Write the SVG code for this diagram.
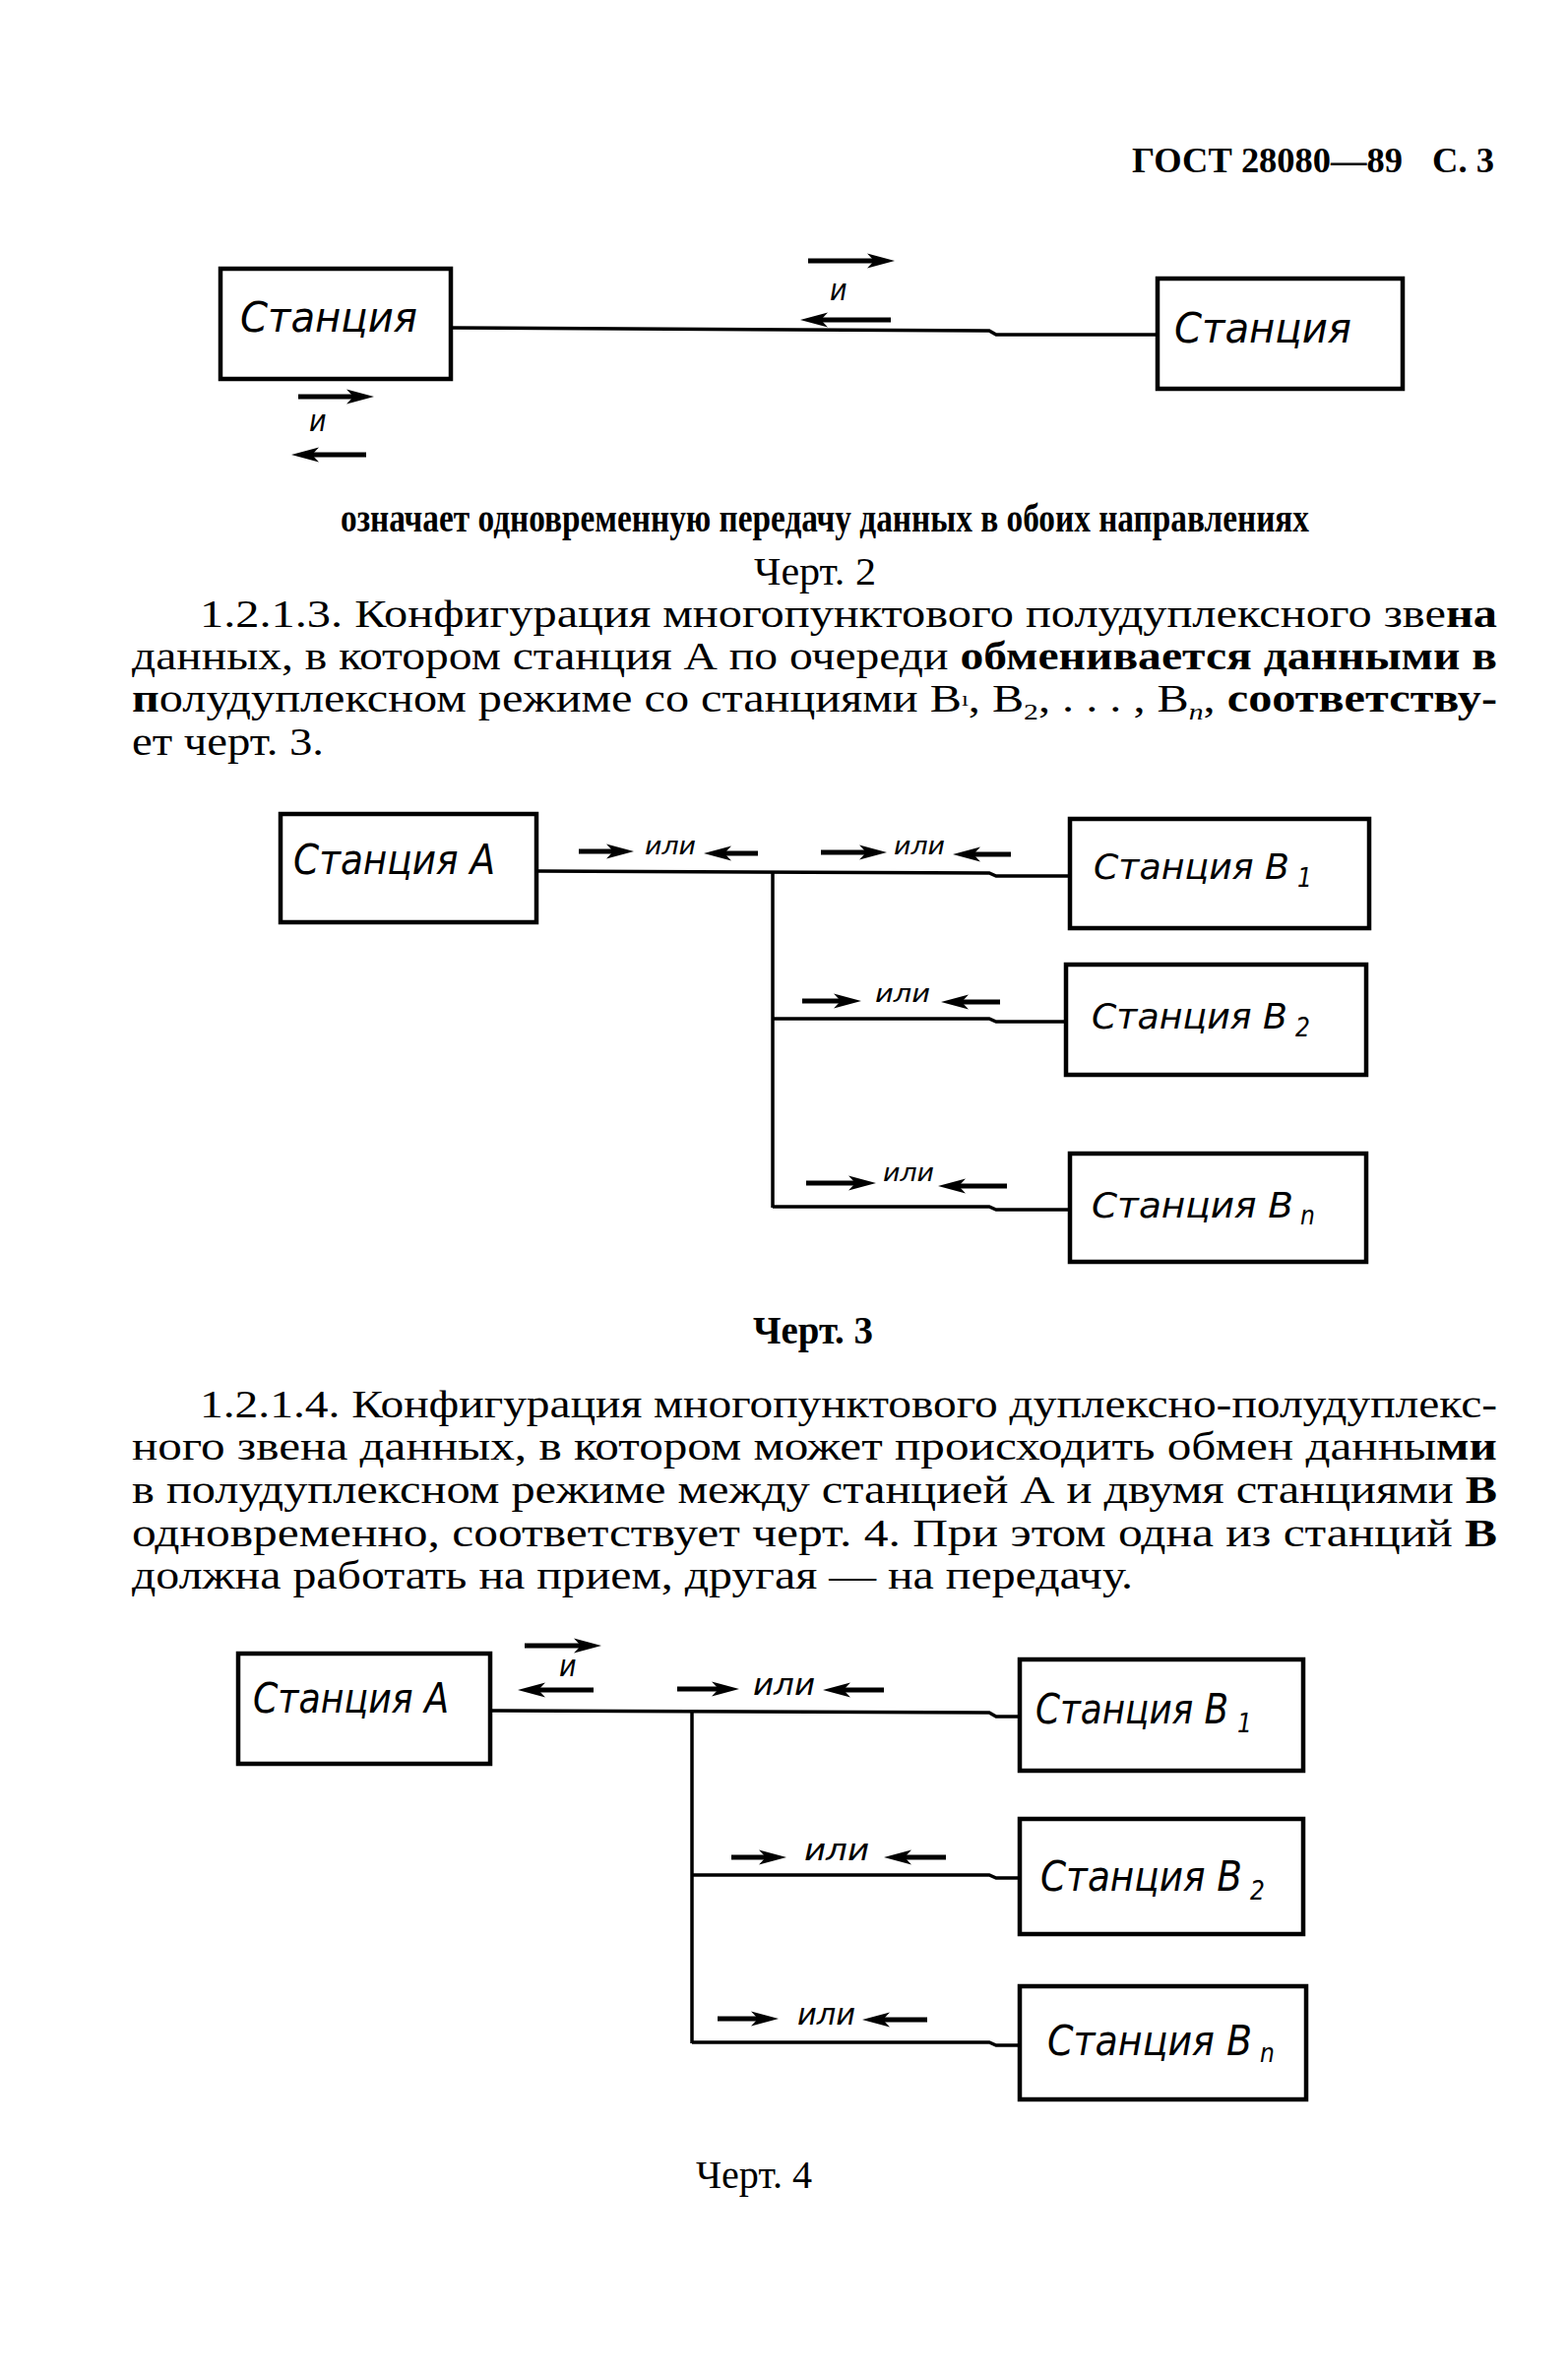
<svg xmlns="http://www.w3.org/2000/svg" width="1593" height="2414" viewBox="0 0 1593 2414">
<style>
.bg{fill:#fff}
.box{fill:none;stroke:#000;stroke-width:4.5}
.wire{fill:none;stroke:#000;stroke-width:3.5}
.arr{stroke:#000;stroke-width:5;marker-end:url(#ah)}
.st{font-family:'DejaVu Sans Condensed','DejaVu Sans',sans-serif;font-style:oblique;font-size:42px;fill:#000}
.st3{font-size:35px}
.sub{font-size:26px}
.lbl{font-family:'DejaVu Sans Condensed','DejaVu Sans',sans-serif;font-style:oblique;fill:#000}
.body{font-family:'Liberation Serif','Times New Roman',serif;font-size:39px;fill:#000}
.hd{font-family:'Liberation Serif','Times New Roman',serif;font-weight:bold;font-size:35px;fill:#000}
.b{font-weight:bold}
</style>
<defs>
<marker id="ah" markerUnits="userSpaceOnUse" markerWidth="30" markerHeight="18" refX="17" refY="9" orient="auto">
<path d="M0,1.5 L28,9 L0,16.5 L7,9 Z" fill="#000"/>
</marker>
</defs>
<rect class="bg" x="0" y="0" width="1593" height="2414"/>

<!-- Header -->
<g id="header">
<text class="hd" x="1150" y="175" textLength="275" lengthAdjust="spacingAndGlyphs">ГОСТ 28080—89</text>
<text class="hd" x="1455" y="175" textLength="63" lengthAdjust="spacingAndGlyphs">С. 3</text>
</g>

<!-- ===== Figure 2 ===== -->
<g id="fig2-connectors">
<polyline class="wire" points="458,333 1005,336 1012,340 1176,340"/>
<line class="arr" x1="821" y1="265" x2="898" y2="265"/>
<line class="arr" x1="905" y1="325" x2="824" y2="325"/>
<line class="arr" x1="303" y1="403" x2="369" y2="403"/>
<line class="arr" x1="372" y1="462" x2="307" y2="462"/>
<text class="lbl" x="843" y="305" font-size="30">и</text>
<text class="lbl" x="314" y="438" font-size="30">и</text>
</g>
<g id="fig2-station-left">
<rect class="box" x="224" y="273" width="234" height="112"/>
<text class="st" x="244" y="337" textLength="180" lengthAdjust="spacingAndGlyphs">Станция</text>
</g>
<g id="fig2-station-right">
<rect class="box" x="1176" y="283" width="249" height="112"/>
<text class="st" x="1193" y="348" textLength="180" lengthAdjust="spacingAndGlyphs">Станция</text>
</g>
<g id="fig2-caption">
<text class="body b" x="346" y="540" font-size="25" textLength="984" lengthAdjust="spacingAndGlyphs">означает одновременную передачу данных в обоих направлениях</text>
<text class="body" x="766" y="594" textLength="124" lengthAdjust="spacingAndGlyphs">Черт. 2</text>
</g>

<!-- Paragraph 1.2.1.3 -->
<g id="para-1213">
<text class="body" x="203" y="637" textLength="1318" lengthAdjust="spacingAndGlyphs">1.2.1.3. Конфигурация многопунктового полудуплексного зве<tspan class="b">на</tspan></text>
<text class="body" x="134" y="680" textLength="1387" lengthAdjust="spacingAndGlyphs">данных, в котором станция А по очереди <tspan class="b">обменивается данными в</tspan></text>
<text class="body" x="134" y="723" textLength="1387" lengthAdjust="spacingAndGlyphs"><tspan class="b">п</tspan>олудуплексном режиме со станциями В<tspan font-size="20" dy="-6">ı</tspan><tspan dy="6">, В</tspan><tspan font-size="24" dy="8">2</tspan><tspan dy="-8">, . . . , В</tspan><tspan font-size="24" font-style="italic" dy="8">n</tspan><tspan dy="-8">, </tspan><tspan class="b">соответству-</tspan></text>
<text class="body" x="134" y="767" textLength="195" lengthAdjust="spacingAndGlyphs">ет черт. 3.</text>
</g>

<!-- ===== Figure 3 ===== -->
<g id="fig3-connectors">
<polyline class="wire" points="545,885 1005,887 1012,890 1087,890"/>
<line class="wire" x1="785" y1="886" x2="785" y2="1227"/>
<polyline class="wire" points="785,1035 1005,1035 1012,1038 1083,1038"/>
<polyline class="wire" points="785,1226 1005,1226 1012,1229 1087,1229"/>
<line class="arr" x1="588" y1="865" x2="633" y2="865"/>
<text class="lbl" x="655" y="868" font-size="25" textLength="52" lengthAdjust="spacingAndGlyphs">или</text>
<line class="arr" x1="770" y1="867" x2="726" y2="867"/>
<line class="arr" x1="834" y1="866" x2="890" y2="866"/>
<text class="lbl" x="908" y="868" font-size="25" textLength="52" lengthAdjust="spacingAndGlyphs">или</text>
<line class="arr" x1="1027" y1="868" x2="979" y2="868"/>
<line class="arr" x1="815" y1="1017" x2="864" y2="1017"/>
<text class="lbl" x="889" y="1018" font-size="25" textLength="56" lengthAdjust="spacingAndGlyphs">или</text>
<line class="arr" x1="1016" y1="1018" x2="967" y2="1018"/>
<line class="arr" x1="819" y1="1202" x2="879" y2="1202"/>
<text class="lbl" x="897" y="1200" font-size="25" textLength="52" lengthAdjust="spacingAndGlyphs">или</text>
<line class="arr" x1="1023" y1="1205" x2="964" y2="1205"/>
</g>
<g id="fig3-station-A">
<rect class="box" x="285" y="827" width="260" height="110"/>
<text class="st" x="298" y="888" textLength="205" lengthAdjust="spacingAndGlyphs">Станция А</text>
</g>
<g id="fig3-station-B1">
<rect class="box" x="1087" y="832" width="304" height="111"/>
<text class="st st3" x="1111" y="893" textLength="199" lengthAdjust="spacingAndGlyphs">Станция В</text>
<text class="st sub" x="1318" y="901">1</text>
</g>
<g id="fig3-station-B2">
<rect class="box" x="1083" y="980" width="305" height="112"/>
<text class="st st3" x="1109" y="1045" textLength="199" lengthAdjust="spacingAndGlyphs">Станция В</text>
<text class="st sub" x="1316" y="1053">2</text>
</g>
<g id="fig3-station-Bn">
<rect class="box" x="1087" y="1172" width="301" height="110"/>
<text class="st st3" x="1109" y="1237" textLength="205" lengthAdjust="spacingAndGlyphs">Станция В</text>
<text class="st sub" x="1321" y="1244">n</text>
</g>
<g id="fig3-caption">
<text class="body b" x="765" y="1365" textLength="122" lengthAdjust="spacingAndGlyphs">Черт. 3</text>
</g>

<!-- Paragraph 1.2.1.4 -->
<g id="para-1214">
<text class="body" x="203" y="1440" textLength="1318" lengthAdjust="spacingAndGlyphs">1.2.1.4. Конфигурация многопунктового дуплексно-полудуплекс-</text>
<text class="body" x="134" y="1483" textLength="1387" lengthAdjust="spacingAndGlyphs">ного звена данных, в котором может происходить обмен  данны<tspan class="b">ми</tspan></text>
<text class="body" x="134" y="1527" textLength="1387" lengthAdjust="spacingAndGlyphs">в полудуплексном режиме между станцией А и двумя станциями <tspan class="b">В</tspan></text>
<text class="body" x="134" y="1571" textLength="1387" lengthAdjust="spacingAndGlyphs">одновременно, соответствует черт. 4. При этом одна из  станций <tspan class="b">В</tspan></text>
<text class="body" x="134" y="1614" textLength="1017" lengthAdjust="spacingAndGlyphs">должна работать на прием, другая — на передачу.</text>
</g>

<!-- ===== Figure 4 ===== -->
<g id="fig4-connectors">
<polyline class="wire" points="498,1738 1005,1740 1012,1744 1038,1744"/>
<line class="wire" x1="703" y1="1740" x2="703" y2="2076"/>
<polyline class="wire" points="703,1905 1005,1905 1012,1908 1038,1908"/>
<polyline class="wire" points="703,2075 1005,2075 1012,2078 1038,2078"/>
<line class="arr" x1="533" y1="1672" x2="600" y2="1672"/>
<text class="lbl" x="568" y="1703" font-size="30">и</text>
<line class="arr" x1="603" y1="1717" x2="537" y2="1717"/>
<line class="arr" x1="688" y1="1716" x2="740" y2="1716"/>
<text class="lbl" x="765" y="1722" font-size="30" textLength="63" lengthAdjust="spacingAndGlyphs">или</text>
<line class="arr" x1="898" y1="1717" x2="847" y2="1717"/>
<line class="arr" x1="743" y1="1887" x2="788" y2="1887"/>
<text class="lbl" x="817" y="1890" font-size="30" textLength="66" lengthAdjust="spacingAndGlyphs">или</text>
<line class="arr" x1="961" y1="1887" x2="909" y2="1887"/>
<line class="arr" x1="729" y1="2051" x2="780" y2="2051"/>
<text class="lbl" x="810" y="2057" font-size="30" textLength="59" lengthAdjust="spacingAndGlyphs">или</text>
<line class="arr" x1="942" y1="2052" x2="887" y2="2052"/>
</g>
<g id="fig4-station-A">
<rect class="box" x="242" y="1680" width="256" height="112"/>
<text class="st" x="257" y="1740" textLength="199" lengthAdjust="spacingAndGlyphs">Станция А</text>
</g>
<g id="fig4-station-B1">
<rect class="box" x="1036" y="1686" width="288" height="113"/>
<text class="st" x="1052" y="1751" textLength="196" lengthAdjust="spacingAndGlyphs">Станция В</text>
<text class="st sub" x="1257" y="1760">1</text>
</g>
<g id="fig4-station-B2">
<rect class="box" x="1036" y="1848" width="288" height="117"/>
<text class="st" x="1057" y="1921" textLength="205" lengthAdjust="spacingAndGlyphs">Станция В</text>
<text class="st sub" x="1270" y="1930">2</text>
</g>
<g id="fig4-station-Bn">
<rect class="box" x="1036" y="2018" width="291" height="115"/>
<text class="st" x="1064" y="2088" textLength="208" lengthAdjust="spacingAndGlyphs">Станция В</text>
<text class="st sub" x="1280" y="2095">n</text>
</g>
<g id="fig4-caption">
<text class="body" x="707" y="2223" textLength="118" lengthAdjust="spacingAndGlyphs">Черт. 4</text>
</g>
</svg>
